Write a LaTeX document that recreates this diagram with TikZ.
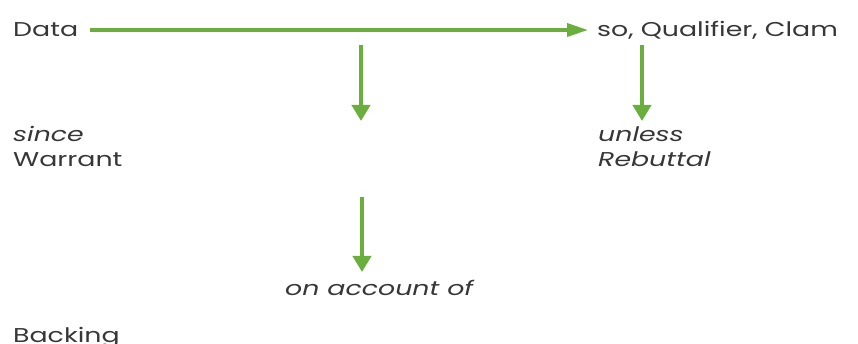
\documentclass[tikz,border=0pt]{standalone}
\usepackage{fontspec}
\setmainfont{Poppins}[FakeStretch=1.34]
\usetikzlibrary{arrows.meta}
\definecolor{argreen}{RGB}{106,174,62}
\definecolor{textgray}{RGB}{55,55,55}
\begin{document}
\begin{tikzpicture}[x=1pt,y=-1pt,
  lbl/.style={anchor=base west, inner sep=0pt, text=textgray,
    font=\fontsize{20}{24}\selectfont},
  hlink/.style={draw=argreen, line width=3.5pt,
    -{Triangle[length=21pt,width=13pt]}},
  vlink/.style={draw=argreen, line width=4.5pt,
    -{Triangle[length=16pt,width=18pt]}}]
\useasboundingbox (0,0) rectangle (858,344);
% labels of the argument scheme
\node[lbl] (data)     at (13,37)  {Data};
\node[lbl] (claim)    at (597,37) {so, Qualifier, Clam};
\node[lbl] (since)    at (13,142) {\itshape since};
\node[lbl] (warrant)  at (13,167) {Warrant};
\node[lbl] (unless)   at (598,142) {\itshape unless};
\node[lbl] (rebuttal) at (598,167) {\itshape Rebuttal};
\node[lbl] (account)  at (285,295) {\itshape on account of};
\node[lbl] (backing)  at (13,342) {Backing};
% arrow end points
\coordinate (h0) at (90,30);
\coordinate (h1) at (588,30);
\coordinate (w0) at (361,45);
\coordinate (w1) at (361,121);
\coordinate (r0) at (642,45);
\coordinate (r1) at (642,121);
\coordinate (b0) at (362,197);
\coordinate (b1) at (362,272);
% connectors
\draw[hlink] (h0) -- (h1);
\draw[vlink] (w0) -- (w1);
\draw[vlink] (r0) -- (r1);
\draw[vlink] (b0) -- (b1);
\end{tikzpicture}
\end{document}
